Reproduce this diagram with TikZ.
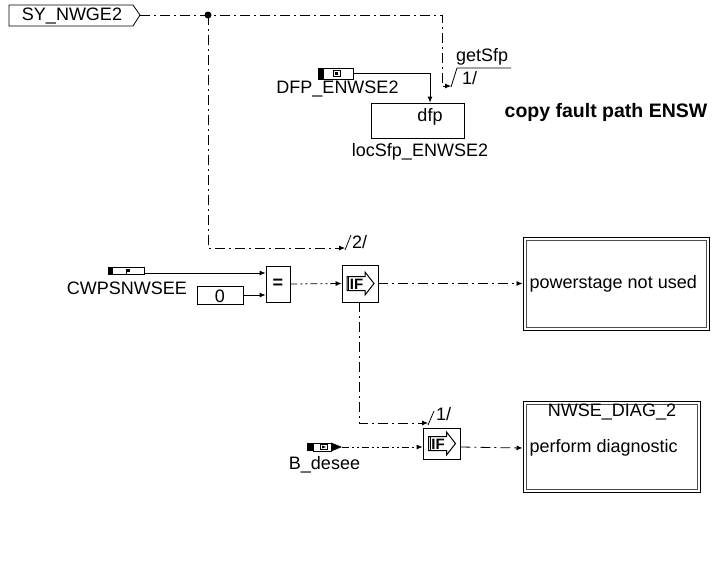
\documentclass[tikz,border=0pt]{standalone}
\usepackage{fontspec}
\setmainfont{Liberation Sans}
\usetikzlibrary{arrows.meta}
\begin{document}
\begin{tikzpicture}[x=1pt,y=-1pt,
  txt/.style={inner sep=0pt, font=\fontsize{18}{20}\selectfont},
  blk/.style={draw, line width=0.8pt, inner sep=0pt},
  dbl/.style={draw, line width=1pt, inner sep=0pt},
  inr/.style={draw=black!70, line width=0.9pt},
  dd/.style={dash pattern=on 10pt off 4pt on 2pt off 4pt},
  ddd/.style={dash pattern=on 7pt off 3pt on 2pt off 3pt on 2pt off 3pt},
  arr/.style={-{Latex[length=6pt,width=5pt]}},
  wire/.style={line width=0.8pt},
  ifsym/.pic={
    \draw[line width=1pt,fill=white] (-13,-7) -- (5,-7) -- (5,-11.5) -- (14,0) -- (5,11.5) -- (5,7) -- (-13,7) -- cycle;
    \draw[line width=1pt] (-11.5,-7) -- (-11.5,7);
    \node[inner sep=0pt, font=\fontsize{15}{15}\selectfont\bfseries] at (-3.5,0.5) {IF};
  }]
\useasboundingbox (0,0) rectangle (715,563);

% --- SY_NWGE2 message ---
\draw[line width=0.8pt] (9,5) -- (133,5) -- (140,15) -- (133,26) -- (9,26) -- cycle;
\node[txt] (sy) at (72,16) {SY\_NWGE2};
\coordinate (syt) at (140,15);
\coordinate (j) at (208,15);

% --- parameter DFP ---
\node[blk, minimum width=35pt, minimum height=11pt] (dfpi) at (335.5,73.5) {};
\fill (318,68) rectangle (324,79);
\filldraw[line width=0.6pt, fill=white] (333,70.5) rectangle (340,76.5);
\fill (334.5,72) rectangle (338,75);
\node[txt] (dfpl) at (337.5,89) {DFP\_ENWSE2};

% dfp process box
\node[blk, minimum width=93pt, minimum height=35pt] (dfp) at (417.5,120.5) {};
\node[txt] (dfpt) at (430,117) {dfp};
\node[txt] (loc) at (420,152) {locSfp\_ENWSE2};
\node[txt, font=\fontsize{19.5}{21}\selectfont\bfseries] (copy) at (606,112) {copy fault path ENSW};

% --- CWPSNWSEE parameter ---
\node[blk, minimum width=36pt, minimum height=7pt] (cwi) at (126,270.5) {};
\fill (108,267) rectangle (113,274);
\fill (126,269) rectangle (129.5,272);
\fill (126,272) rectangle (127.3,273.5);
\node[txt] (cwl) at (127,288) {CWPSNWSEE};

\node[blk, minimum width=46pt, minimum height=18pt] (zero) at (220,295) {};
\node[txt] (zerot) at (220,296) {0};

\node[blk, minimum width=24pt, minimum height=36pt] (eq) at (278,284) {};
\node[txt, font=\fontsize{18}{20}\selectfont\bfseries] (eqt) at (278,284) {=};

\node[blk, minimum width=36pt, minimum height=37pt] (IF1) at (360,283.5) {};
\pic at (IF1.center) {ifsym};

% --- B_desee ---
\fill (307,443) rectangle (313,451);
\draw[line width=0.8pt] (313,443) rectangle (331,451);
\filldraw[line width=0.6pt, fill=white] (320,444.5) rectangle (327,449.5);
\fill (322,445.5) -- (326,447) -- (322,448.5) -- cycle;
\fill (331,442.5) -- (342,447) -- (331,451.5) -- cycle;
\coordinate (bi) at (342,447);
\node[txt] (bl) at (324.5,465) {B\_desee};

\node[blk, minimum width=37pt, minimum height=31pt] (IF2) at (441.5,443.5) {};
\pic at (IF2.center) {ifsym};

% --- target boxes ---
\node[dbl, minimum width=186pt, minimum height=93pt] (ps) at (616,283.5) {};
\draw[inr] (526,240) rectangle (706,327);
\node[txt, anchor=west] (pst) at (529.5,284) {powerstage not used};

\node[dbl, minimum width=177pt, minimum height=91pt] (nw) at (611.5,446.5) {};
\draw[inr] (526,404) rectangle (697,489);
\node[txt] (nwt) at (612,412) {NWSE\_DIAG\_2};
\node[txt, anchor=west] (nwp) at (529.5,448) {perform diagnostic};

% --- connectors ---
\draw[wire,dd,arr] (syt) -- (442,15) -- (442,86) -- (451,86);
\draw[wire] (451,87) -- (457,68) -- (511,68);
\node[txt, anchor=west] (gs) at (456,57) {getSfp};
\node[txt, anchor=west] (one1) at (462,78) {1/};
\fill (j) circle (3.5pt);

\draw[wire,dd,arr] (j) -- (208,248) -- (345,248);
\draw[wire] (345,250) -- (351,235);
\node[txt, anchor=west] (two) at (352,242) {2/};

\draw[wire,arr] (dfpi.east) -| ([xshift=12.5pt]dfp.north);

\draw[wire,arr] ([shift={(0,2.5)}]cwi.east) -- ([shift={(0,-11)}]eq.west);
\draw[wire,arr] (zero.east) -- ([shift={(0,11)}]eq.west);
\draw[wire,ddd,arr] (eq.east) -- (IF1.west);
\draw[wire,dd,arr] (IF1.east) -- (ps.west);

\draw[wire,dd,arr] ([shift={(-1,0)}]IF1.south) -- (359,423) -- (428,423);
\draw[wire] (428,425) -- (434,411);
\node[txt, anchor=west] (one2) at (436,414) {1/};

\draw[wire,ddd,arr] (bi) -- ([shift={(0,3.5)}]IF2.west);
\draw[wire,dd,arr] ([shift={(0,3.5)}]IF2.east) -- ([shift={(0,1.5)}]nw.west);
\end{tikzpicture}
\end{document}
